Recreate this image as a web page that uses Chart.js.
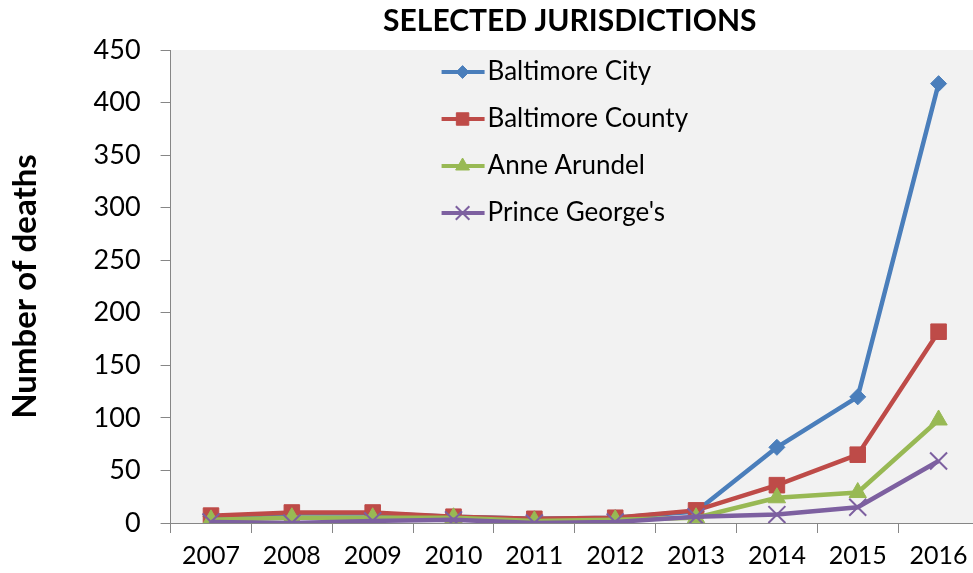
<!DOCTYPE html>
<html>
<head>
<meta charset="utf-8">
<script src="https://cdn.jsdelivr.net/npm/chart.js@4/dist/chart.umd.min.js"></script>
<style>
  html, body { margin: 0; padding: 0; background: #fff; }
  #wrap { width: 973px; height: 573px; overflow: hidden; }
</style>
</head>
<body>
<div id="wrap"><canvas id="deathsChart" width="993" height="579"></canvas></div>
<script>
// chart data
const years = ['2007', '2008', '2009', '2010', '2011', '2012', '2013', '2014', '2015', '2016'];
const baltimoreCity = [6, 9, 9, 6, 4, 5, 11, 72, 120, 418];
const baltimoreCounty = [7, 10, 10, 6, 4, 5, 12, 36, 65, 182];
const anneArundel = [3, 5, 5, 5, 2, 3, 5, 24, 29, 98];
const princeGeorges = [1, 0, 2, 3, 0, 1, 6, 8, 15, 59];
const yTicks = [0, 50, 100, 150, 200, 250, 300, 350, 400, 450];
const chartTitle = 'SELECTED JURISDICTIONS';

const FONT = 'Lato, "Open Sans", sans-serif';

// grey plot area like the excel original, title centred over the plot
const plotBg = {
    id: 'plotBg',
    beforeDraw(chart) {
        const a = chart.chartArea;
        const ctx = chart.ctx;
        ctx.save();
        ctx.fillStyle = '#f2f2f2';
        ctx.fillRect(a.left, a.top, a.right - a.left, a.bottom - a.top);
        ctx.fillStyle = '#000';
        ctx.font = 'bold 30px ' + FONT;
        ctx.textAlign = 'center';
        ctx.textBaseline = 'middle';
        ctx.fillText(chartTitle, (a.left + a.right) / 2 - 5, 21);
        ctx.restore();
    }
};

// legend drawn inside the plot area, line + marker + label
const innerLegend = {
    id: 'innerLegend',
    afterDraw(chart) {
        const ctx = chart.ctx;
        const a = chart.chartArea;
        const x0 = a.left + 271;
        let y = a.top + 22;
        ctx.save();
        chart.data.datasets.forEach(ds => {
            ctx.strokeStyle = ds.borderColor;
            ctx.lineWidth = 4;
            ctx.beginPath();
            ctx.moveTo(x0, y);
            ctx.lineTo(x0 + 43, y);
            ctx.stroke();
            ctx.fillStyle = ds.pointBackgroundColor;
            ctx.strokeStyle = ds.pointBorderColor;
            ctx.lineWidth = ds.pointBorderWidth;
            Chart.helpers.drawPoint(ctx, {
                pointStyle: ds.pointStyle,
                radius: ds.pointRadius * 0.8,
                rotation: 0,
                borderWidth: ds.pointBorderWidth
            }, x0 + 21, y);
            ctx.fillStyle = '#000';
            ctx.font = '26px ' + FONT;
            ctx.textBaseline = 'middle';
            ctx.fillText(ds.label, x0 + 46, y);
            y += 47;
        });
        ctx.restore();
    }
};

function series(label, data, color, style, radius, order) {
    return {
        label: label,
        data: data,
        order: order,
        borderColor: color,
        backgroundColor: color,
        borderWidth: 4.5,
        pointStyle: style,
        pointRadius: radius,
        pointHoverRadius: radius,
        pointBackgroundColor: color,
        pointBorderColor: color,
        pointBorderWidth: style === 'crossRot' ? 2 : 1,
        tension: 0
    };
}

const ctx = document.getElementById('deathsChart').getContext('2d');
const deathsChart = new Chart(ctx, {
    type: 'line',
    data: {
        labels: years,
        datasets: [
            series('Baltimore City', baltimoreCity, '#4a7ebb', 'rectRot', 8, 4),
            series('Baltimore County', baltimoreCounty, '#be4b48', 'rect', 11, 3),
            series('Anne Arundel', anneArundel, '#98b954', 'triangle', 10, 2),
            series("Prince George's", princeGeorges, '#7d60a0', 'crossRot', 12, 1)
        ]
    },
    options: {
        responsive: false,
        animation: false,
        layout: { padding: { top: 50, right: 3, left: 6, bottom: 0 } },
        plugins: {
            legend: { display: false },
            tooltip: { enabled: false },
            title: { display: false }
        },
        scales: {
            x: {
                offset: true,
                grid: {
                    offset: true,
                    drawOnChartArea: false,
                    drawTicks: true,
                    tickLength: 10,
                    color: '#868686'
                },
                border: { color: '#868686', width: 1 },
                ticks: {
                    color: '#000',
                    font: { family: FONT, size: 25 },
                    maxRotation: 0,
                    autoSkip: false,
                    padding: 8
                }
            },
            y: {
                min: 0,
                max: 450,
                afterBuildTicks(axis) {
                    axis.ticks = yTicks.map(v => ({ value: v }));
                },
                grid: {
                    drawOnChartArea: false,
                    drawTicks: true,
                    tickLength: 10,
                    color: '#868686'
                },
                border: { color: '#868686', width: 1 },
                ticks: {
                    color: '#000',
                    font: { family: FONT, size: 27 },
                    padding: 20
                },
                title: {
                    display: true,
                    text: 'Number of deaths',
                    color: '#000',
                    font: { family: FONT, size: 33, weight: 'bold' },
                    padding: { top: 0, bottom: 28 }
                }
            }
        }
    },
    plugins: [plotBg, innerLegend]
});
</script>
</body>
</html>
